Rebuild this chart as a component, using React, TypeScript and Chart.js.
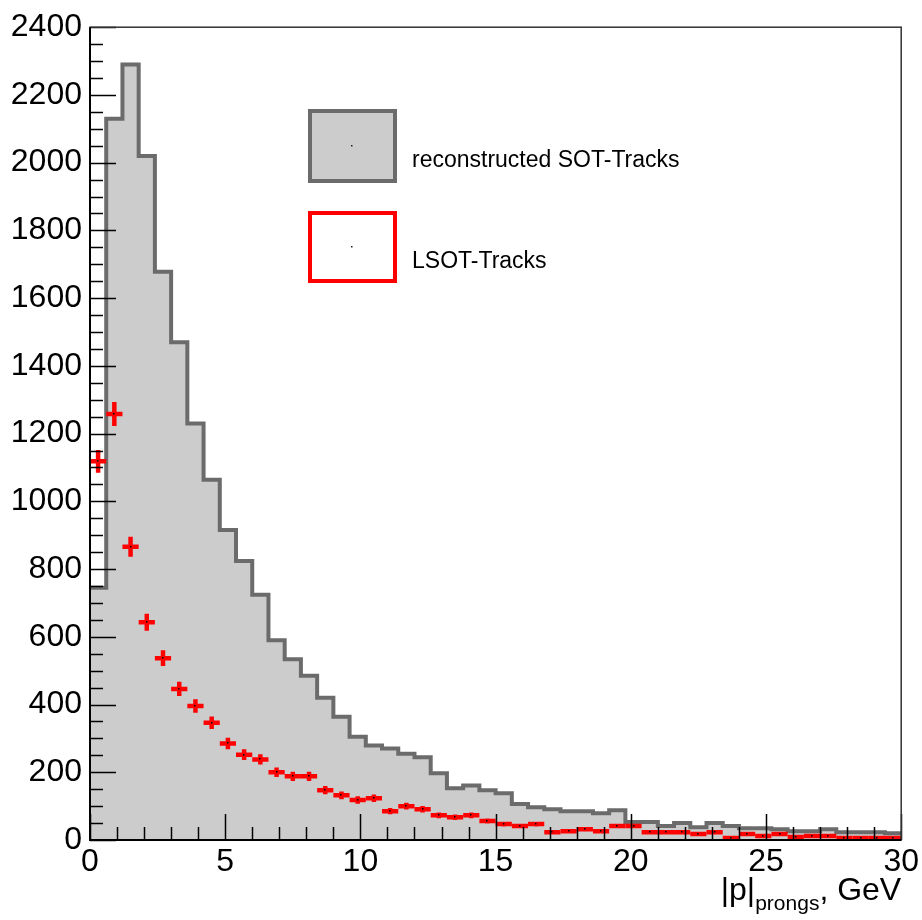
import React, { useEffect, useRef } from "react";
import { Chart, registerables } from "chart.js";

Chart.register(...registerables);

// ---- data ----
const binEdges = [
  0, 0.6, 1.2, 1.8, 2.4, 3, 3.6, 4.2, 4.8, 5.4, 6, 6.6, 7.2, 7.8, 8.4, 9, 9.6,
  10.2, 10.8, 11.4, 12, 12.6, 13.2, 13.8, 14.4, 15, 15.6, 16.2, 16.8, 17.4, 18,
  18.6, 19.2, 19.8, 20.4, 21, 21.6, 22.2, 22.8, 23.4, 24, 24.6, 25.2, 25.8,
  26.4, 27, 27.6, 28.2, 28.8, 29.4, 30,
];

const sotTracks = [
  745, 2130, 2290, 2020, 1678, 1470, 1230, 1064, 915, 824, 724, 590, 534, 485,
  420, 364, 305, 279, 270, 255, 244, 197, 153, 161, 147, 138, 106, 97, 91, 85,
  85, 79, 88, 53, 53, 41, 50, 38, 50, 41, 35, 35, 32, 26, 26, 32, 23, 23, 23, 20,
];

const lsotTracks = [
  1118, 1258, 866, 643, 537, 446, 396, 346, 285, 252, 238, 200, 188, 188, 147,
  132, 118, 123, 85, 100, 91, 73, 67, 73, 56, 47, 41, 47, 23, 26, 32, 26, 41,
  41, 23, 23, 23, 18, 23, 6, 18, 12, 18, 9, 12, 12, 6, 6, 6, 6,
];

const xTickValues = [0, 5, 10, 15, 20, 25, 30];
const yTickValues = [0, 200, 400, 600, 800, 1000, 1200, 1400, 1600, 1800, 2000, 2200, 2400];
const xMinorStep = 1;
const yMinorStep = 50;

const legendLabels = ["reconstructed SOT-Tracks", "LSOT-Tracks"];
const xTitleMain = "|p|";
const xTitleSub = "prongs";
const xTitleTail = ", GeV";

const FONT = '"Liberation Sans", Arial, Helvetica, sans-serif';
const GRAY_LINE = "#6b6b6b";
const GRAY_FILL = "#cccccc";
const RED = "#ff0000";

const rootPlugin = {
  id: "rootStyle",
  afterDatasetsDraw(chart: any) {
    const { ctx, chartArea: a, scales } = chart;
    const xs = scales.x;
    const ys = scales.y;

    // error bars for the LSOT dataset
    const meta = chart.getDatasetMeta(1);
    ctx.save();
    ctx.beginPath();
    ctx.rect(a.left, a.top, a.right - a.left, a.bottom - a.top);
    ctx.clip();
    ctx.strokeStyle = RED;
    ctx.lineWidth = 4.5;
    ctx.lineCap = "butt";
    meta.data.forEach((pt: any, i: number) => {
      const v = lsotTracks[i];
      const err = Math.sqrt(v);
      const l = xs.getPixelForValue(binEdges[i]);
      const r = xs.getPixelForValue(binEdges[i + 1]);
      const t = ys.getPixelForValue(v + err);
      const b = ys.getPixelForValue(v - err);
      ctx.beginPath();
      ctx.moveTo(l, pt.y);
      ctx.lineTo(r, pt.y);
      ctx.moveTo(pt.x, t);
      ctx.lineTo(pt.x, b);
      ctx.stroke();
    });
    ctx.fillStyle = "#000";
    meta.data.forEach((pt: any) => {
      ctx.fillRect(Math.round(pt.x) - 1, Math.round(pt.y) - 1, 1.5, 1.5);
    });
    ctx.restore();

    // ticks (inside the frame)
    ctx.save();
    ctx.strokeStyle = "#000";
    ctx.lineWidth = 1.5;
    ctx.beginPath();
    const yMax = yTickValues[yTickValues.length - 1];
    for (let v = 0; v <= yMax + 1e-6; v += yMinorStep) {
      const py = Math.round(ys.getPixelForValue(v)) + 0.5;
      const major = yTickValues.includes(v);
      ctx.moveTo(a.left, py);
      ctx.lineTo(a.left + (major ? 26 : 13), py);
    }
    const xMax = xTickValues[xTickValues.length - 1];
    for (let v = 0; v <= xMax + 1e-6; v += xMinorStep) {
      const px = Math.round(xs.getPixelForValue(v)) + 0.5;
      const major = xTickValues.includes(v);
      ctx.moveTo(px, a.bottom);
      ctx.lineTo(px, a.bottom - (major ? 26 : 13));
    }
    ctx.stroke();

    // frame
    ctx.strokeStyle = "#333";
    ctx.lineWidth = 1.5;
    ctx.strokeRect(a.left, a.top, a.right - a.left, a.bottom - a.top);
    ctx.strokeStyle = "#000";
    ctx.lineWidth = 2;
    ctx.beginPath();
    ctx.moveTo(a.left, a.top);
    ctx.lineTo(a.left, a.bottom);
    ctx.lineTo(a.right, a.bottom);
    ctx.stroke();
    ctx.restore();
  },
  afterDraw(chart: any) {
    const { ctx, chartArea: a } = chart;
    ctx.save();
    // legend
    ctx.lineWidth = 4;
    ctx.fillStyle = GRAY_FILL;
    ctx.strokeStyle = GRAY_LINE;
    ctx.fillRect(310, 111, 85, 70);
    ctx.strokeRect(310, 111, 85, 70);
    ctx.fillStyle = "#fff";
    ctx.strokeStyle = RED;
    ctx.fillRect(310, 213, 85, 68);
    ctx.strokeRect(310, 213, 85, 68);
    ctx.fillStyle = "#222";
    ctx.fillRect(351, 145, 1.5, 1.5);
    ctx.fillRect(351, 246, 1.5, 1.5);
    ctx.fillStyle = "#000";
    ctx.font = `23px ${FONT}`;
    ctx.textAlign = "left";
    ctx.textBaseline = "alphabetic";
    ctx.fillText(legendLabels[0], 412, 167);
    ctx.fillText(legendLabels[1], 412, 268);

    // x axis title with subscript, right aligned to the frame
    const mainFont = `32px ${FONT}`;
    const subFont = `21px ${FONT}`;
    ctx.font = mainFont;
    const w1 = ctx.measureText(xTitleMain).width;
    const w3 = ctx.measureText(xTitleTail).width;
    ctx.font = subFont;
    const w2 = ctx.measureText(xTitleSub).width;
    let x0 = a.right - (w1 + w2 + w3);
    const base = 900;
    ctx.font = mainFont;
    ctx.fillText(xTitleMain, x0, base);
    x0 += w1;
    ctx.font = subFont;
    ctx.fillText(xTitleSub, x0, base + 10);
    x0 += w2;
    ctx.font = mainFont;
    ctx.fillText(xTitleTail, x0, base);
    ctx.restore();
  },
};

export default function App() {
  const ref = useRef<HTMLCanvasElement | null>(null);

  useEffect(() => {
    if (!ref.current) return;
    const histData = binEdges.map((e, i) => ({
      x: e,
      y: sotTracks[Math.min(i, sotTracks.length - 1)],
    }));
    const pointData = lsotTracks.map((v, i) => ({
      x: (binEdges[i] + binEdges[i + 1]) / 2,
      y: v,
    }));
    const chart = new Chart(ref.current, {
      type: "line",
      data: {
        datasets: [
          {
            label: legendLabels[0],
            data: histData,
            stepped: "before",
            borderColor: GRAY_LINE,
            backgroundColor: GRAY_FILL,
            borderWidth: 4,
            fill: "origin",
            pointRadius: 0,
            tension: 0,
          } as any,
          {
            type: "scatter",
            label: legendLabels[1],
            data: pointData,
            pointRadius: 0,
            borderColor: RED,
            backgroundColor: RED,
            showLine: false,
          } as any,
        ],
      },
      options: {
        responsive: false,
        animation: false,
        events: [],
        layout: { padding: { top: 22, right: 19, left: 0, bottom: 0 } },
        plugins: {
          legend: { display: false },
          tooltip: { enabled: false },
        },
        scales: {
          x: {
            type: "linear",
            min: 0,
            max: 30,
            afterFit: (s: any) => {
              s.height = 80;
            },
            afterBuildTicks: (s: any) => {
              s.ticks = xTickValues.map((v) => ({ value: v }));
            },
            grid: { display: false, drawTicks: false },
            border: { display: false },
            ticks: {
              color: "#000",
              font: { family: FONT, size: 32 },
              padding: 3,
              maxRotation: 0,
              autoSkip: false,
              callback: (v: any) => String(v),
            },
          },
          y: {
            type: "linear",
            min: 0,
            max: 2400,
            afterFit: (s: any) => {
              s.width = 90;
            },
            afterBuildTicks: (s: any) => {
              s.ticks = yTickValues.map((v) => ({ value: v }));
            },
            grid: { display: false, drawTicks: false },
            border: { display: false },
            ticks: {
              color: "#000",
              font: { family: FONT, size: 32 },
              padding: 8,
              autoSkip: false,
              callback: (v: any) => String(v),
            },
          },
        },
      },
      plugins: [rootPlugin],
    });
    return () => chart.destroy();
  }, []);

  return (
    <div style={{ position: "absolute", left: 0, top: 0, width: 922, height: 920, background: "#fff" }}>
      <canvas ref={ref} width={922} height={920} style={{ width: 922, height: 920, display: "block" }} />
    </div>
  );
}
